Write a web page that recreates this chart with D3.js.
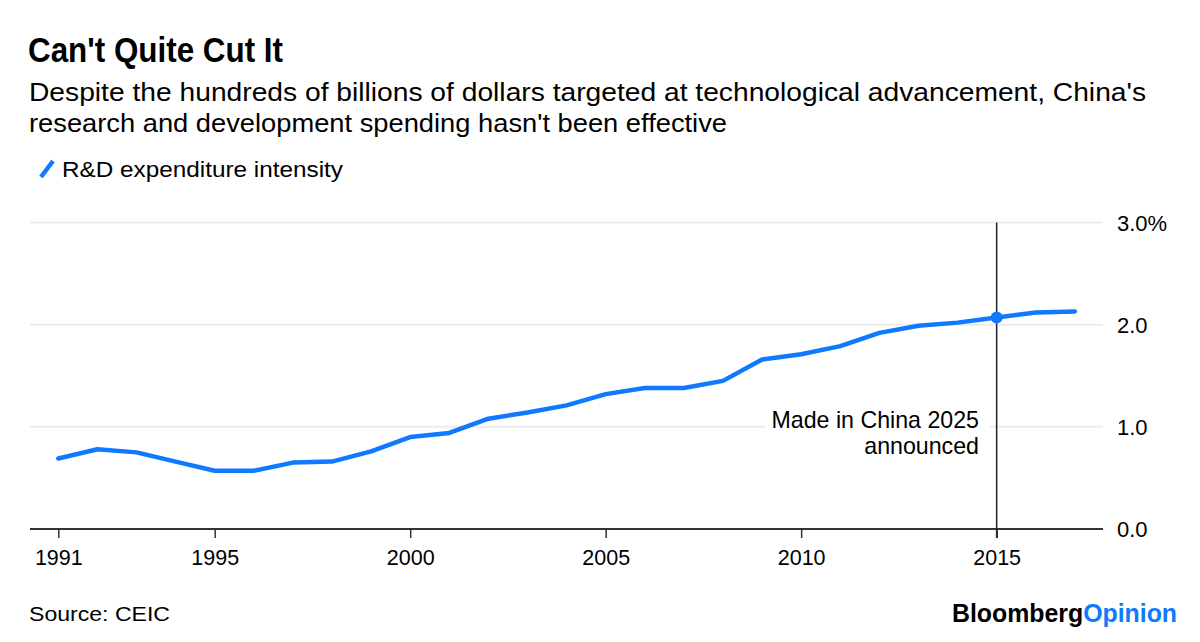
<!DOCTYPE html>
<html>
<head>
<meta charset="utf-8">
<script src="https://cdn.jsdelivr.net/npm/d3@7"></script>
<style>
  body { margin: 0; background: #fff; }
  svg { display: block; font-family: "Liberation Sans", Arial, sans-serif; }
</style>
</head>
<body>
<svg id="chart" width="1200" height="642"></svg>
<script>
const years = [1991,1992,1993,1994,1995,1996,1997,1998,1999,2000,2001,2002,2003,2004,2005,2006,2007,2008,2009,2010,2011,2012,2013,2014,2015,2016,2017];
const intensity = [0.69,0.78,0.75,0.66,0.57,0.57,0.65,0.66,0.76,0.90,0.94,1.08,1.14,1.21,1.32,1.38,1.38,1.45,1.66,1.71,1.79,1.92,1.99,2.02,2.07,2.12,2.13];
const xTicks = [1991,1995,2000,2005,2010,2015];
const yTicks = [0,1,2,3];
const yTickLabels = ["0.0","1.0","2.0","3.0%"];
const markerYear = 2015;
const annotation = ["Made in China 2025","announced"];

const blue = "#0f7aff";
const svg = d3.select("#chart");

const x = d3.scaleLinear().domain([1990.276, 2017.72]).range([30, 1103]);
const y = d3.scaleLinear().domain([0, 3]).range([529, 222.5]);

function fit(sel, w) {
  return sel.attr("textLength", w).attr("lengthAdjust", "spacingAndGlyphs");
}

// Titles
fit(svg.append("text").attr("x", 28).attr("y", 62).attr("font-size", 35).attr("font-weight", "bold")
  .attr("fill", "#000").text("Can't Quite Cut It"), 255);
fit(svg.append("text").attr("x", 29).attr("y", 101).attr("font-size", 26).attr("fill", "#000")
  .text("Despite the hundreds of billions of dollars targeted at technological advancement, China's"), 1117);
fit(svg.append("text").attr("x", 29).attr("y", 132).attr("font-size", 26).attr("fill", "#000")
  .text("research and development spending hasn't been effective"), 698);

// Legend
svg.append("line").attr("x1", 41).attr("y1", 177).attr("x2", 53).attr("y2", 161)
  .attr("stroke", blue).attr("stroke-width", 4.5);
fit(svg.append("text").attr("x", 62).attr("y", 177).attr("font-size", 22.5).attr("fill", "#000")
  .text("R&D expenditure intensity"), 281);

// Gridlines
svg.append("g").selectAll("line").data(yTicks.filter(d => d > 0)).join("line")
  .attr("x1", 30).attr("x2", 1103)
  .attr("y1", d => y(d)).attr("y2", d => y(d))
  .attr("stroke", "#ececec").attr("stroke-width", 2);

// Y labels
svg.append("g").selectAll("text").data(yTicks).join("text")
  .attr("x", 1117).attr("y", d => y(d) + 8).attr("font-size", 22).attr("fill", "#000")
  .text((d, i) => yTickLabels[i]);

// X axis
const xAxis = d3.axisBottom(x).tickValues(xTicks).tickFormat(d3.format("d")).tickSize(9).tickPadding(12);
const gx = svg.append("g").attr("transform", `translate(0,${y(0)})`).call(xAxis);
gx.select(".domain").attr("stroke", "#333").attr("stroke-width", 2).attr("d", `M30,0H1103`);
gx.selectAll(".tick line").attr("stroke", "#333").attr("stroke-width", 1.5);
gx.selectAll(".tick text").attr("font-size", 21.5).attr("fill", "#000")
  .attr("font-family", "'Liberation Sans', Arial, sans-serif");

// Annotation background and text
svg.append("rect").attr("x", 766).attr("y", 408).attr("width", 224).attr("height", 52).attr("fill", "#fff");
svg.append("g").selectAll("text").data(annotation).join("text")
  .attr("x", 979).attr("y", (d, i) => 428 + i * 25.5).attr("text-anchor", "end")
  .attr("font-size", 23.2).attr("fill", "#000").text(d => d);

// Vertical marker line
svg.append("line").attr("x1", x(markerYear)).attr("x2", x(markerYear))
  .attr("y1", y(3)).attr("y2", y(0) + 9).attr("stroke", "#222").attr("stroke-width", 1.5);

// Data line
const data = years.map((yr, i) => ({yr, v: intensity[i]}));
svg.append("path").datum(data)
  .attr("fill", "none").attr("stroke", blue).attr("stroke-width", 4.5)
  .attr("stroke-linejoin", "round").attr("stroke-linecap", "round")
  .attr("d", d3.line().x(d => x(d.yr)).y(d => y(d.v)));

// Marker dot
const mk = data.find(d => d.yr === markerYear);
svg.append("circle").attr("cx", x(mk.yr)).attr("cy", y(mk.v)).attr("r", 6).attr("fill", blue);

// Footer
fit(svg.append("text").attr("x", 29).attr("y", 621).attr("font-size", 20).attr("fill", "#000").text("Source: CEIC"), 141);
const logo = fit(svg.append("text").attr("x", 952).attr("y", 622)
  .attr("font-size", 25).attr("font-weight", "bold"), 225);
logo.append("tspan").attr("fill", "#000").text("Bloomberg");
logo.append("tspan").attr("fill", blue).text("Opinion");
</script>
</body>
</html>
